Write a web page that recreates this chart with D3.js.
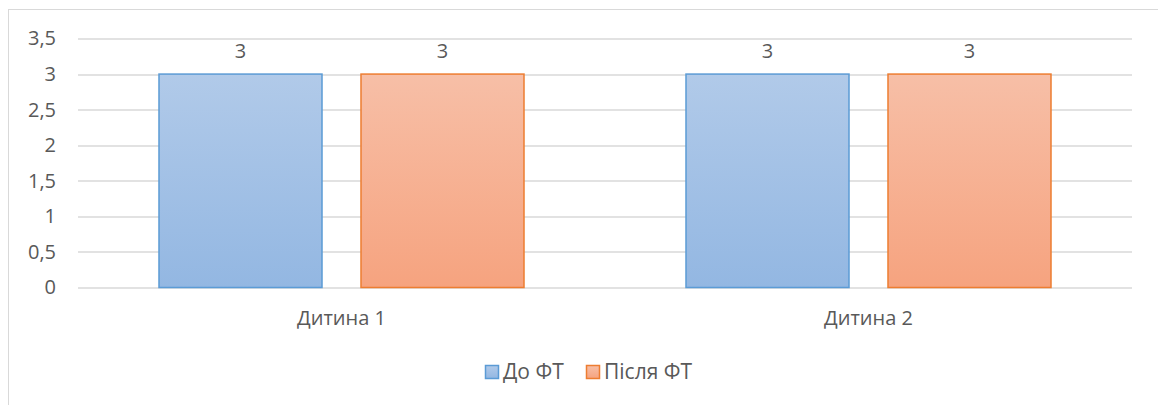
<!DOCTYPE html>
<html>
<head>
<meta charset="utf-8">
<script src="https://cdn.jsdelivr.net/npm/d3@7"></script>
<style>
  body { margin: 0; background: #fff; }
  text { font-family: "Open Sans", sans-serif; fill: #595959; }
</style>
</head>
<body>
<svg width="1158" height="405"></svg>
<script>
const categories = ['Дитина 1', 'Дитина 2'];
const seriesNames = ['До ФТ', 'Після ФТ'];
const before = [3, 3];
const after = [3, 3];
const yTicks = [0, 0.5, 1, 1.5, 2, 2.5, 3, 3.5];

const colors = {
  'До ФТ': { top: '#b1cae9', bottom: '#93b7e2', stroke: '#5b9bd5' },
  'Після ФТ': { top: '#f7bfa7', bottom: '#f6a37f', stroke: '#ed7d31' },
};

const fontSize = '20px';
const rows = categories.map((c, i) => ({ cat: c, values: [before[i], after[i]] }));

const svg = d3.select('svg');
const margin = { left: 78, right: 26, top: 38.5, bottom: 117.5 };
const width = 1158 - margin.left - margin.right;
const height = 405 - margin.top - margin.bottom;

// chart border
svg.append('rect')
  .attr('x', 8.5).attr('y', 9.5)
  .attr('width', 1160).attr('height', 420)
  .attr('fill', 'none').attr('stroke', '#d9d9d9');

const defs = svg.append('defs');
seriesNames.forEach((s, i) => {
  const g = defs.append('linearGradient')
    .attr('id', 'grad' + i)
    .attr('x1', 0).attr('y1', 0).attr('x2', 0).attr('y2', 1);
  g.append('stop').attr('offset', '0%').attr('stop-color', colors[s].top);
  g.append('stop').attr('offset', '100%').attr('stop-color', colors[s].bottom);
});

const g = svg.append('g').attr('transform', `translate(${margin.left},${margin.top})`);

const y = d3.scaleLinear().domain([0, 3.5]).range([height, 0]);
const x0 = d3.scaleBand().domain(categories).range([0, width])
  .paddingInner(0.3074).paddingOuter(0.1537);
const x1 = d3.scaleBand().domain(seriesNames).range([0, x0.bandwidth()])
  .paddingInner(0.193);

// gridlines
g.append('g')
  .selectAll('line')
  .data(yTicks)
  .join('line')
  .attr('x1', 0).attr('x2', width)
  .attr('y1', d => Math.round(y(d)) + 0.5)
  .attr('y2', d => Math.round(y(d)) + 0.5)
  .attr('stroke', '#d9d9d9')
  .attr('stroke-width', 1.5);

// y axis labels
const yAxis = g.append('g')
  .call(d3.axisLeft(y).tickValues(yTicks).tickSize(0).tickPadding(22)
    .tickFormat(d => String(d).replace('.', ',')));
yAxis.select('.domain').remove();
yAxis.selectAll('text').style('font-size', fontSize).attr('fill', '#595959')
  .style('font-family', '"Open Sans", sans-serif');

// bars
const groups = g.append('g')
  .selectAll('g')
  .data(rows)
  .join('g')
  .attr('transform', d => `translate(${x0(d.cat)},0)`);

groups.selectAll('rect')
  .data(d => d.values.map((v, i) => ({ key: seriesNames[i], value: v, idx: i })))
  .join('rect')
  .attr('x', d => x1(d.key))
  .attr('y', d => y(d.value))
  .attr('width', x1.bandwidth())
  .attr('height', d => y(0) - y(d.value))
  .attr('fill', d => `url(#grad${d.idx})`)
  .attr('stroke', d => colors[d.key].stroke)
  .attr('stroke-width', 1.5);

groups.selectAll('text.val')
  .data(d => d.values.map((v, i) => ({ key: seriesNames[i], value: v })))
  .join('text')
  .attr('class', 'val')
  .attr('x', d => x1(d.key) + x1.bandwidth() / 2)
  .attr('y', d => y(d.value) - 16)
  .attr('text-anchor', 'middle')
  .style('font-size', fontSize)
  .text(d => String(d.value).replace('.', ','));

// x axis labels
const xAxis = g.append('g')
  .attr('transform', `translate(0,${height})`)
  .call(d3.axisBottom(x0).tickSize(0).tickPadding(23));
xAxis.select('.domain').remove();
xAxis.selectAll('text').style('font-size', fontSize).attr('fill', '#595959')
  .style('font-family', '"Open Sans", sans-serif');

// legend
const legend = svg.append('g').attr('transform', 'translate(0,372)');
const legendX = [485, 586];
seriesNames.forEach((s, i) => {
  const item = legend.append('g').attr('transform', `translate(${legendX[i]},0)`);
  item.append('rect')
    .attr('x', 0.5).attr('y', -6.5)
    .attr('width', 13).attr('height', 13)
    .attr('fill', `url(#grad${i})`)
    .attr('stroke', colors[s].stroke)
    .attr('stroke-width', 1.5);
  item.append('text')
    .attr('x', 18).attr('y', 0)
    .attr('dy', '0.35em')
    .style('font-size', '21px')
    .text(s);
});
</script>
</body>
</html>
